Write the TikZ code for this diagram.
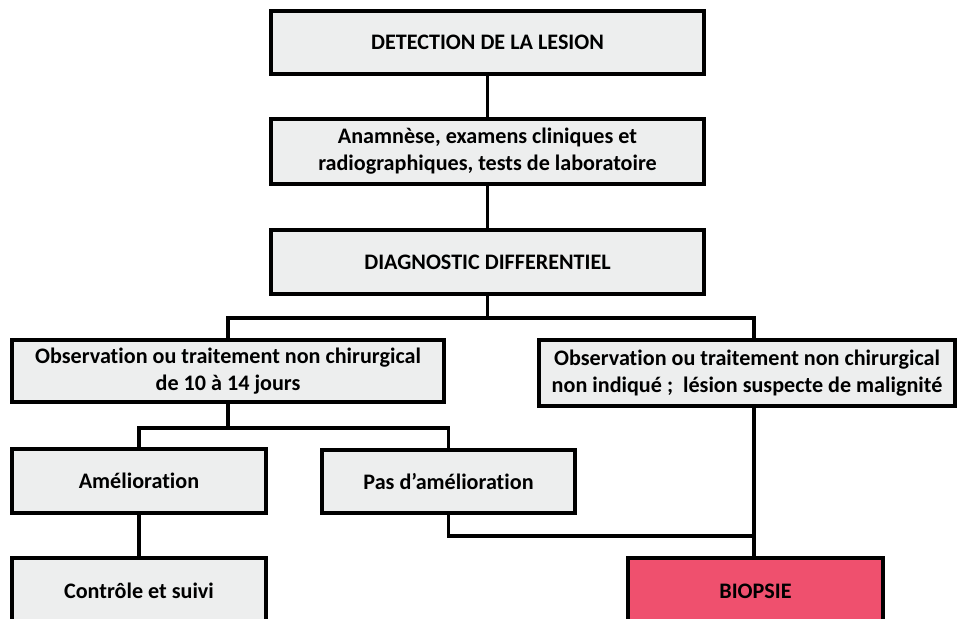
\documentclass[tikz,border=0pt]{standalone}
\usepackage{fontspec}
\setmainfont{Carlito}[Ligatures=NoCommon]
\usepackage{tikz}
\usepackage{xcolor}
\definecolor{BoxGray}{HTML}{EDEEEE}
\definecolor{BioRed}{HTML}{EF506E}

\begin{document}
\begin{tikzpicture}[
  x=0.02cm, y=-0.02cm,
  box/.style={draw=black,fill=BoxGray,line width=2pt,inner sep=0pt,align=center,font=\bfseries\fontsize{12.6}{15.4}\selectfont},
  link/.style={line width=1.9pt,draw=black}
]
\useasboundingbox (0,0) rectangle (958,619);
\clip (0,0) rectangle (958,619);
% main column
\node[box,minimum width=8.66cm,minimum height=1.26cm] (det) at (487.5,42.5) {DETECTION DE LA LESION};
\node[box,minimum width=8.66cm,minimum height=1.30cm] (anam) at (487.5,151.5) {Anamnèse, examens cliniques et\\radiographiques, tests de laboratoire};
\node[box,minimum width=8.66cm,minimum height=1.28cm] (diag) at (487.5,262) {DIAGNOSTIC DIFFERENTIEL};
% two branches
\node[box,minimum width=8.64cm,minimum height=1.24cm] (obsL) at (228,371) {Observation ou traitement non chirurgical\\de 10 à 14 jours};
\node[box,minimum width=8.32cm,minimum height=1.32cm] (obsR) at (747,373) {Observation ou traitement non chirurgical\\non indiqué ;\ \ lésion suspecte de malignité};
\node[box,minimum width=5.08cm,minimum height=1.28cm] (amel) at (139,481) {Amélioration};
\node[box,minimum width=5.06cm,minimum height=1.26cm] (pas) at (448.5,481.5) {Pas d’amélioration};
\node[box,minimum width=5.08cm,minimum height=1.64cm,text depth=0.32cm] (ctrl) at (139,599) {Contrôle et suivi};
\node[box,fill=BioRed,minimum width=5.10cm,minimum height=1.64cm,text depth=0.32cm] (biop) at (755.5,599) {BIOPSIE};
% junctions
\coordinate (j1) at (487.5,318);
\coordinate (jR) at (754,318);
\coordinate (j2) at (228,428);
\coordinate (jB) at (754,536);
\draw[link] (det) -- (anam);
\draw[link] (anam) -- (diag);
\draw[link] (diag) -- (j1);
\draw[link] (obsL.north) |- (jR) -- (obsR.north -| jR);
\draw[link] (obsL) -- (j2);
\draw[link] (amel.north) |- (j2) -| (pas.north);
\draw[link] (amel) -- (ctrl);
\draw[link] (pas.south) |- (jB);
\draw[link] (obsR.south -| jR) -- (biop.north -| jR);
\end{tikzpicture}
\end{document}
